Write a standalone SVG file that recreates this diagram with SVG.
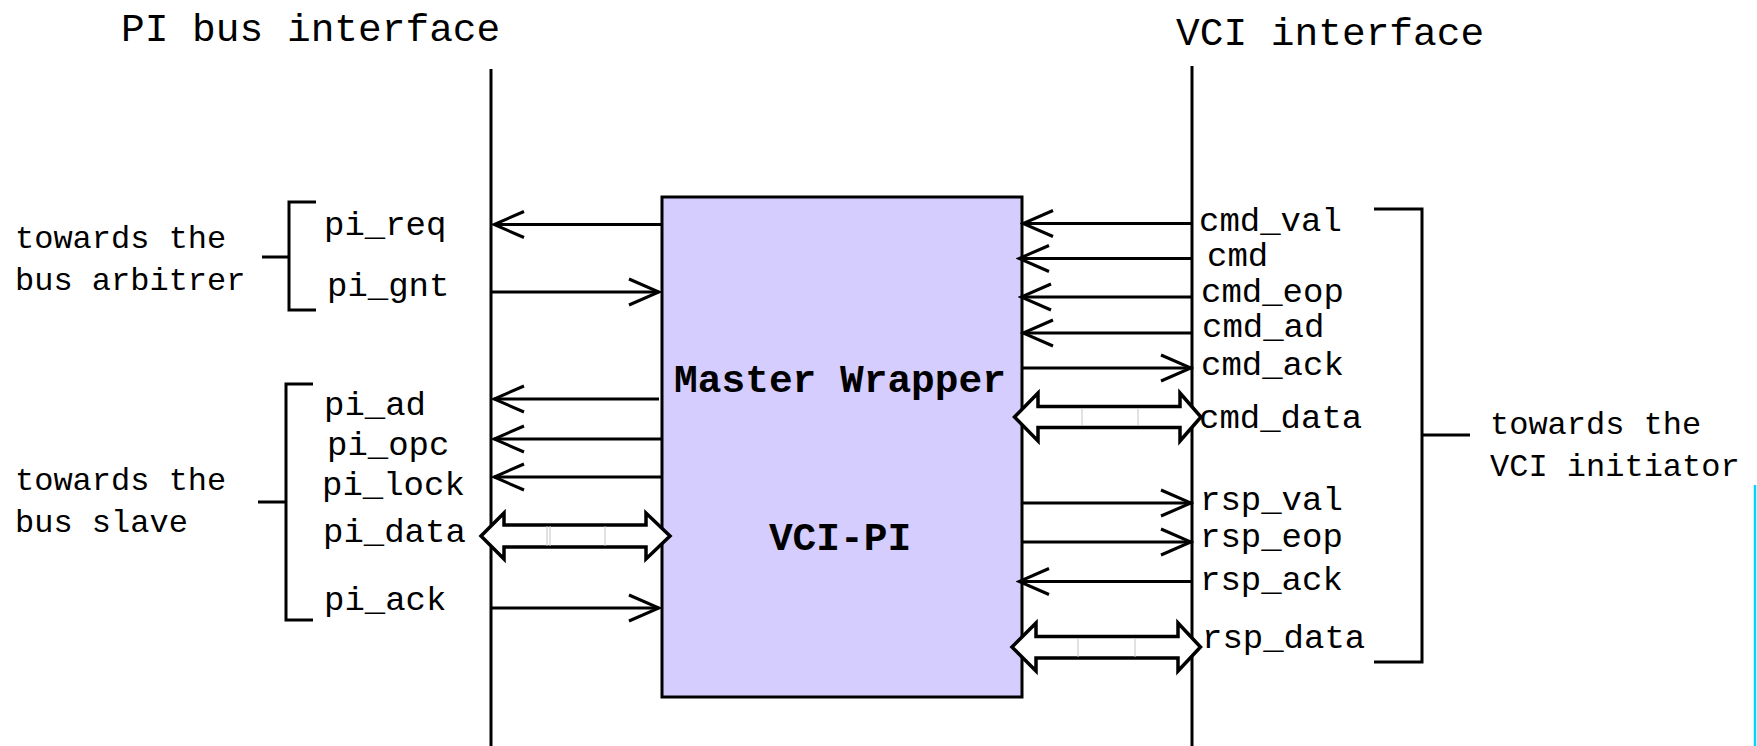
<svg xmlns="http://www.w3.org/2000/svg" width="1757" height="746" viewBox="0 0 1757 746">
<style>
.t{font-family:"Liberation Mono","DejaVu Sans Mono",monospace;fill:#000}
.title{font-size:39.5px}
.lbl{font-size:34px}
.side{font-size:32px}
.big{font-size:39.5px;font-weight:bold;text-anchor:middle}
.ln{stroke:#000;stroke-width:3;fill:none}
.ar{stroke:#000;stroke-width:3;fill:none;marker-end:url(#arr)}
.dbl{fill:#fff;stroke:#000;stroke-width:3.5;stroke-linejoin:miter}
.gr{stroke:#c4c4c4;stroke-width:1}
</style>
<defs>
<marker id="arr" markerUnits="userSpaceOnUse" markerWidth="36" markerHeight="34" viewBox="-33 -17 36 34" refX="0" refY="0" orient="auto">
<path d="M-30,-13 L0,0 L-30,13" fill="none" stroke="#000" stroke-width="3"/>
</marker>
</defs>
<rect width="1757" height="746" fill="#fff"/>
<g id="titles">
<text class="t title" x="121" y="41">PI bus interface</text>
<text class="t title" x="1176" y="45">VCI interface</text>
</g>
<g id="interface-lines">
<line class="ln" x1="491" y1="69" x2="491" y2="746"/>
<line class="ln" x1="1192" y1="66" x2="1192" y2="746"/>
</g>
<g id="master-wrapper">
<rect x="662" y="197" width="360" height="500" fill="#d5cdfe" stroke="#000" stroke-width="3"/>
<text class="t big" x="840" y="392">Master Wrapper</text>
<text class="t big" x="840" y="550">VCI-PI</text>
</g>
<g id="bus-arbitrer-group">
<path class="ln" d="M316,202 H289 V310 H316 M262,257 H289"/>
<text class="t side" x="15" y="248">towards the</text>
<text class="t side" x="15" y="290">bus arbitrer</text>
</g>
<g id="bus-slave-group">
<path class="ln" d="M313,384 H286 V620 H313 M258,502 H286"/>
<text class="t side" x="15" y="490">towards the</text>
<text class="t side" x="15" y="532">bus slave</text>
</g>
<g id="vci-initiator-group">
<path class="ln" d="M1374,209 H1422 V662 H1374 M1422,435 H1470"/>
<text class="t side" x="1490" y="434">towards the</text>
<text class="t side" x="1490" y="476">VCI initiator</text>
</g>
<g id="pi-labels">
<text class="t lbl" x="324" y="235">pi_req</text>
<text class="t lbl" x="327" y="296">pi_gnt</text>
<text class="t lbl" x="324" y="415">pi_ad</text>
<text class="t lbl" x="327" y="455">pi_opc</text>
<text class="t lbl" x="322" y="495">pi_lock</text>
<text class="t lbl" x="323" y="542">pi_data</text>
<text class="t lbl" x="324" y="610">pi_ack</text>
</g>
<g id="vci-labels">
<text class="t lbl" x="1199" y="231">cmd_val</text>
<text class="t lbl" x="1207" y="266">cmd</text>
<text class="t lbl" x="1201" y="302">cmd_eop</text>
<text class="t lbl" x="1202" y="337">cmd_ad</text>
<text class="t lbl" x="1201" y="375">cmd_ack</text>
<text class="t lbl" x="1199" y="428">cmd_data</text>
<text class="t lbl" x="1200" y="510">rsp_val</text>
<text class="t lbl" x="1200" y="547">rsp_eop</text>
<text class="t lbl" x="1200" y="590">rsp_ack</text>
<text class="t lbl" x="1202" y="648">rsp_data</text>
</g>
<g id="connectors">
<line class="ar" x1="662" y1="224.5" x2="494" y2="224.5"/>
<line class="ar" x1="491" y1="292" x2="659" y2="292"/>
<line class="ar" x1="659" y1="399" x2="494" y2="399"/>
<line class="ar" x1="662" y1="439" x2="494" y2="439"/>
<line class="ar" x1="662" y1="477" x2="494" y2="477"/>
<path class="dbl" d="M481,536 L504,513 V525 H646 V513 L670,536 L646,559 V547 H504 V559 Z"/>
<path class="gr" d="M547,526 V546 M550,526 V546 M605,526 V546"/>
<line class="ar" x1="491" y1="608" x2="659" y2="608"/>
<line class="ar" x1="1192" y1="223.5" x2="1023" y2="223.5"/>
<line class="ar" x1="1192" y1="258.5" x2="1019" y2="258.5"/>
<line class="ar" x1="1192" y1="297" x2="1021" y2="297"/>
<line class="ar" x1="1192" y1="333" x2="1023" y2="333"/>
<line class="ar" x1="1022" y1="368" x2="1191" y2="368"/>
<path class="dbl" d="M1014.5,417 L1038,393 V406.5 H1180 V393 L1201,417 L1180,441 V427.5 H1038 V441 Z"/>
<path class="gr" d="M1082,408 V426 M1138,408 V426"/>
<line class="ar" x1="1022" y1="503" x2="1191" y2="503"/>
<line class="ar" x1="1022" y1="542" x2="1191" y2="542"/>
<line class="ar" x1="1192" y1="581.5" x2="1019" y2="581.5"/>
<path class="dbl" d="M1012,647 L1036,623 V636.5 H1178 V623 L1200.5,647 L1178,671 V658 H1036 V671 Z"/>
<path class="gr" d="M1078,638 V657 M1135,638 V657"/>
</g>
<line x1="1755" y1="485" x2="1755" y2="746" stroke="#00d4ff" stroke-width="2.5"/>
</svg>
